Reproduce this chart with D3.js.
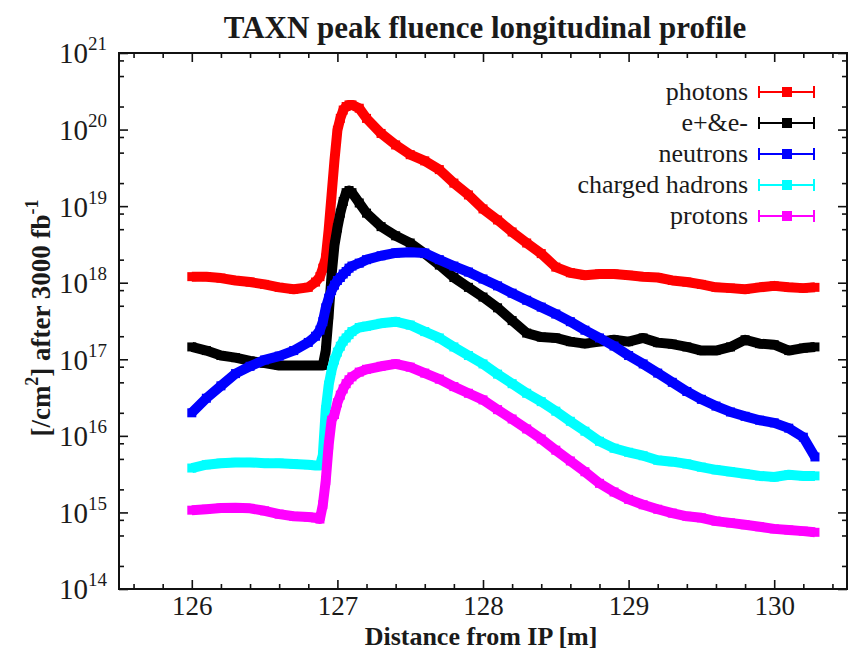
<!DOCTYPE html>
<html>
<head>
<meta charset="utf-8">
<script src="https://cdn.jsdelivr.net/npm/d3@7"></script>
<style>
  html, body { margin: 0; padding: 0; background: #fff; }
  svg { display: block; font-family: "Liberation Serif", "Times New Roman", serif; }
</style>
</head>
<body>
<svg id="chart" width="848" height="652"></svg>
<script>
// Distance from the interaction point [m]
const distance = [126.0,126.1,126.2,126.3,126.4,126.5,126.6,126.7,126.8,126.85,126.88,
  126.9,126.92,126.94,126.96,126.98,127.0,127.02,127.04,127.06,127.08,127.1,127.15,127.2,
  127.3,127.4,127.5,127.6,127.7,127.8,127.9,128.0,128.1,128.2,128.3,128.4,128.5,128.6,128.7,
  128.8,128.9,129.0,129.1,129.2,129.3,129.4,129.5,129.6,129.7,129.8,129.9,130.0,130.1,130.2,130.28];

// Peak fluence [/cm^2] after 3000 fb^-1, one value per distance
const photons = [1.2e18,1.2e18,1.15e18,1.07e18,1.02e18,9.5e17,8.7e17,8.2e17,8.7e17,1.02e18,1.2e18,
  1.55e18,2.1e18,4.9e18,1.4e19,4.0e19,9.8e19,1.4e20,1.8e20,2.0e20,2.1e20,2.1e20,1.9e20,1.4e20,
  8.9e19,6.3e19,4.7e19,3.9e19,3.0e19,2.0e19,1.4e19,9.2e18,6.6e18,4.6e18,3.3e18,2.4e18,1.6e18,1.35e18,1.25e18,
  1.3e18,1.3e18,1.25e18,1.2e18,1.17e18,1.07e18,1.02e18,9.5e17,8.7e17,8.5e17,8.2e17,8.7e17,9.1e17,8.7e17,8.5e17,8.7e17];

const electrons = [1.45e17,1.3e17,1.12e17,1.05e17,9.5e16,8.9e16,8.3e16,8.3e16,8.3e16,8.3e16,8.3e16,
  8.3e16,1.3e17,3.8e17,1.26e18,3.1e18,5.2e18,8.1e18,1.15e19,1.5e19,1.6e19,1.5e19,1.1e19,8.1e18,
  5.4e18,4.1e18,3.3e18,2.4e18,1.7e18,1.17e18,8.7e17,6.5e17,4.7e17,3.2e17,2.2e17,1.95e17,1.9e17,1.7e17,1.6e17,
  1.7e17,1.8e17,1.7e17,1.9e17,1.65e17,1.58e17,1.45e17,1.3e17,1.3e17,1.45e17,1.8e17,1.6e17,1.55e17,1.3e17,1.4e17,1.45e17];

const neutrons = [2.0e16,3.1e16,4.5e16,6.5e16,8.1e16,9.8e16,1.1e17,1.3e17,1.66e17,2.0e17,2.4e17,
  3.1e17,4.7e17,6.3e17,7.9e17,9.3e17,1.07e18,1.17e18,1.3e18,1.4e18,1.55e18,1.65e18,1.8e18,2.0e18,
  2.25e18,2.45e18,2.5e18,2.45e18,2.0e18,1.65e18,1.38e18,1.12e18,9.1e17,7.3e17,5.9e17,4.8e17,3.9e17,3.1e17,2.4e17,
  1.9e17,1.49e17,1.12e17,8.7e16,6.6e16,5.0e16,3.8e16,3.0e16,2.45e16,2.05e16,1.8e16,1.6e16,1.48e16,1.26e16,9.6e15,5.3e15];

const chargedHadrons = [3.8e15,4.2e15,4.4e15,4.5e15,4.5e15,4.4e15,4.4e15,4.3e15,4.2e15,4.1e15,4.1e15,
  5.6e15,2.2e16,4.6e16,7.2e16,9.8e16,1.24e17,1.48e17,1.73e17,1.9e17,2.1e17,2.3e17,2.6e17,2.7e17,
  2.95e17,3.1e17,2.8e17,2.3e17,1.9e17,1.45e17,1.12e17,8.7e16,6.4e16,4.8e16,3.6e16,2.8e16,2.1e16,1.55e16,1.15e16,
  8.5e15,6.9e15,6.1e15,5.5e15,4.8e15,4.6e15,4.3e15,3.9e15,3.6e15,3.4e15,3.2e15,3.0e15,2.9e15,3.1e15,3.0e15,3.0e15];

const protons = [1.07e15,1.1e15,1.14e15,1.15e15,1.13e15,1.05e15,9.5e14,8.9e14,8.7e14,8.5e14,8.2e14,
  1.26e15,2.6e15,7.6e15,1.6e16,1.9e16,2.7e16,3.4e16,4.1e16,4.8e16,5.4e16,5.9e16,6.8e16,7.4e16,
  8.1e16,8.7e16,7.9e16,6.6e16,5.5e16,4.4e16,3.6e16,2.95e16,2.2e16,1.66e16,1.23e16,9.1e15,6.5e15,4.7e15,3.4e15,
  2.4e15,1.85e15,1.48e15,1.26e15,1.1e15,9.8e14,8.9e14,8.5e14,7.7e14,7.3e14,6.9e14,6.5e14,6.1e14,5.9e14,5.7e14,5.5e14];

const seriesNames = ["photons", "e+&e-", "neutrons", "charged hadrons", "protons"];
const seriesColors = ["#ff0000", "#000000", "#0000ff", "#00ffff", "#ff00ff"];
const seriesValues = [photons, electrons, neutrons, chargedHadrons, protons];

const xMajorTicks = [126, 127, 128, 129, 130];
const xMinorTicks = [125.6, 125.8, 126.2, 126.4, 126.6, 126.8, 127.2, 127.4, 127.6, 127.8,
  128.2, 128.4, 128.6, 128.8, 129.2, 129.4, 129.6, 129.8, 130.2, 130.4];
const yExponents = [14, 15, 16, 17, 18, 19, 20, 21];
const yMinorMantissas = [2, 5, 8];

const titleText = "TAXN peak fluence longitudinal profile";
const xLabelText = "Distance from IP [m]";

// ---- layout ----
const plotLeft = 119, plotRight = 847, plotTop = 53, plotBottom = 589;
const svg = d3.select("#chart");

const x = d3.scaleLinear().domain([125.5, 130.5]).range([plotLeft, plotRight]);
const y = d3.scaleLog().domain([1e14, 1e21]).range([plotBottom, plotTop]);

const yMajor = yExponents.map(e => Math.pow(10, e));
const yMinor = [];
yExponents.slice(0, -1).forEach(e => yMinorMantissas.forEach(m => yMinor.push(m * Math.pow(10, e))));

function styleAxis(g) {
  g.select(".domain").remove();
  g.selectAll(".tick line").attr("stroke", "#111").attr("stroke-width", 1.6);
}

// bottom axis with labels
svg.append("g").attr("transform", `translate(0,${plotBottom})`)
  .call(d3.axisBottom(x).tickValues(xMajorTicks).tickSizeInner(-9).tickSizeOuter(0).tickPadding(7).tickFormat(d3.format("d")))
  .call(styleAxis)
  .call(g => g.selectAll("text").attr("font-size", 27).attr("fill", "#1a1a1a")
    .attr("font-family", "Liberation Serif, serif"));
svg.append("g").attr("transform", `translate(0,${plotBottom})`)
  .call(d3.axisBottom(x).tickValues(xMinorTicks).tickSizeInner(-5).tickSizeOuter(0).tickFormat(""))
  .call(styleAxis);

// mirrored top axis
svg.append("g").attr("transform", `translate(0,${plotTop})`)
  .call(d3.axisTop(x).tickValues(xMajorTicks).tickSizeInner(-9).tickSizeOuter(0).tickFormat(""))
  .call(styleAxis);
svg.append("g").attr("transform", `translate(0,${plotTop})`)
  .call(d3.axisTop(x).tickValues(xMinorTicks).tickSizeInner(-5).tickSizeOuter(0).tickFormat(""))
  .call(styleAxis);

// left axis: powers of ten
const yAxisG = svg.append("g").attr("transform", `translate(${plotLeft},0)`)
  .call(d3.axisLeft(y).tickValues(yMajor).tickSizeInner(-9).tickSizeOuter(0).tickPadding(12).tickFormat(() => ""))
  .call(styleAxis);
yAxisG.selectAll(".tick").each(function (d) {
  const t = d3.select(this).select("text")
    .attr("font-size", 29).attr("fill", "#1a1a1a").attr("dy", "0.34em")
    .attr("font-family", "Liberation Serif, serif");
  t.append("tspan").text("10");
  t.append("tspan").attr("dy", -13).attr("font-size", 19).text(Math.round(Math.log10(d)));
});
svg.append("g").attr("transform", `translate(${plotLeft},0)`)
  .call(d3.axisLeft(y).tickValues(yMinor).tickSizeInner(-5).tickSizeOuter(0).tickFormat(""))
  .call(styleAxis);

// mirrored right axis
svg.append("g").attr("transform", `translate(${plotRight},0)`)
  .call(d3.axisRight(y).tickValues(yMajor).tickSizeInner(-9).tickSizeOuter(0).tickFormat(""))
  .call(styleAxis);
svg.append("g").attr("transform", `translate(${plotRight},0)`)
  .call(d3.axisRight(y).tickValues(yMinor).tickSizeInner(-5).tickSizeOuter(0).tickFormat(""))
  .call(styleAxis);

// plot frame
svg.append("rect").attr("x", plotLeft).attr("y", plotTop)
  .attr("width", plotRight - plotLeft).attr("height", plotBottom - plotTop)
  .attr("fill", "none").attr("stroke", "#111").attr("stroke-width", 2);

// ---- data series ----
const line = d3.line().x(d => x(d[0])).y(d => y(d[1]));
const markerSize = 9;

seriesValues.forEach((vals, i) => {
  const pts = distance.map((dx, k) => [dx, vals[k]]);
  const g = svg.append("g").attr("class", "series");
  g.append("path").datum(pts)
    .attr("d", line)
    .attr("fill", "none")
    .attr("stroke", seriesColors[i])
    .attr("stroke-width", 10)
    .attr("stroke-linejoin", "round");
  g.selectAll("rect").data(pts).join("rect")
    .attr("x", d => x(d[0]) - markerSize / 2)
    .attr("y", d => y(d[1]) - markerSize / 2)
    .attr("width", markerSize).attr("height", markerSize)
    .attr("fill", seriesColors[i]);
});

// ---- legend ----
const legend = svg.append("g");
seriesNames.forEach((name, i) => {
  const ly = 92 + i * 31;
  const c = seriesColors[i];
  legend.append("text").attr("x", 748).attr("y", ly).attr("dy", "0.32em")
    .attr("text-anchor", "end").attr("font-size", 26).attr("fill", "#1a1a1a").text(name);
  legend.append("line").attr("x1", 759).attr("x2", 814).attr("y1", ly).attr("y2", ly)
    .attr("stroke", c).attr("stroke-width", 2);
  [759, 814].forEach(cx => legend.append("line").attr("x1", cx).attr("x2", cx)
    .attr("y1", ly - 6).attr("y2", ly + 6).attr("stroke", c).attr("stroke-width", 2));
  legend.append("rect").attr("x", 787 - 5).attr("y", ly - 5)
    .attr("width", 10).attr("height", 10).attr("fill", c);
});

// ---- titles ----
svg.append("text").attr("x", 485).attr("y", 38).attr("text-anchor", "middle")
  .attr("font-size", 31).attr("font-weight", "bold").attr("fill", "#1a1a1a").text(titleText);

svg.append("text").attr("x", 481).attr("y", 645).attr("text-anchor", "middle")
  .attr("font-size", 26).attr("font-weight", "bold").attr("fill", "#1a1a1a").text(xLabelText);

const yl = svg.append("text").attr("transform", "translate(50,318) rotate(-90)")
  .attr("text-anchor", "middle").attr("font-size", 27).attr("font-weight", "bold").attr("fill", "#1a1a1a");
yl.append("tspan").text("[/cm");
yl.append("tspan").attr("dy", -12).attr("font-size", 18).text("2");
yl.append("tspan").attr("dy", 12).text("] after 3000 fb");
yl.append("tspan").attr("dy", -12).attr("font-size", 18).text("-1");
</script>
</body>
</html>
